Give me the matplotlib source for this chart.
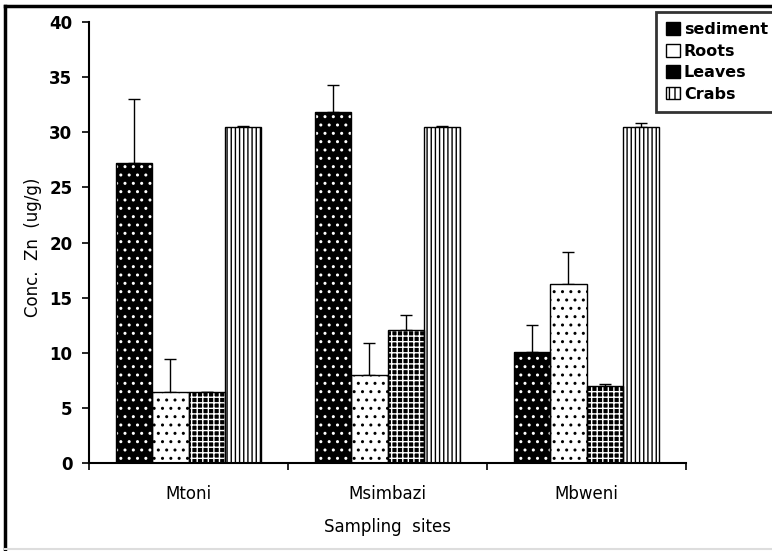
import numpy as np
import matplotlib
matplotlib.use("Agg")
import matplotlib.pyplot as plt
from matplotlib.patches import Rectangle
from matplotlib.lines import Line2D

sites = ["Mtoni", "Msimbazi", "Mbweni"]
series = ["sediment", "Roots", "Leaves", "Crabs"]
sediment = [27.2, 31.8, 10.1]
roots = [6.4, 8.0, 16.2]
leaves = [6.4, 12.1, 7.0]
crabs = [30.5, 30.5, 30.5]
sediment_err = [5.8, 2.5, 2.4]
roots_err = [3.0, 2.9, 2.9]
leaves_err = [0.05, 1.3, 0.15]
crabs_err = [0.05, 0.05, 0.3]

values = [sediment, roots, leaves, crabs]
errors = [sediment_err, roots_err, leaves_err, crabs_err]
# face colour, hatch, hatch colour
styles = [("black", "..", "white"),
          ("white", "..", "black"),
          ("black", "+++", "white"),
          ("white", "||||", "black")]
legend_hatch = ["", "", "+", "|||"]

plt.rcParams['font.family'] = ['DejaVu Sans']
plt.rcParams['hatch.linewidth'] = 1.0

fig = plt.figure(figsize=(7.72, 5.51), dpi=100)
ax = fig.add_axes([0.1153, 0.1597, 0.7733, 0.8003])

x = np.arange(len(sites))
w = 0.182
handles = []
for i, (vals, errs) in enumerate(zip(values, errors)):
    fc, hatch, hc = styles[i]
    pos = x + (i - 1.5) * w
    ax.bar(pos, vals, w, color=fc, edgecolor=hc, hatch=hatch, linewidth=0, zorder=2)
    ax.bar(pos, vals, w, fill=False, edgecolor="black", linewidth=1.0, zorder=3)
    ax.errorbar(pos, vals, yerr=[np.zeros(len(vals)), errs], fmt="none",
                ecolor="black", elinewidth=1.0, capsize=4, capthick=1.0, zorder=1)
    handles.append(Rectangle((0, 0), 1, 1, facecolor=fc, edgecolor="black",
                             hatch=legend_hatch[i], linewidth=1.0))

ax.set_xlim(-0.5, 2.5)
ax.set_ylim(0, 40)
ax.set_yticks(np.arange(0, 41, 5))
ax.set_xticks([-0.5, 0.5, 1.5, 2.5], minor=False)
ax.set_xticklabels([])
ax.set_xticks(x, minor=True)
ax.set_xticklabels(sites, minor=True)
ax.tick_params(axis="x", which="minor", length=0, pad=16, labelsize=12)
ax.tick_params(axis="x", which="major", length=5, width=1.2, direction="out")
ax.tick_params(axis="y", length=5, width=1.2, direction="out", labelsize=12, pad=7)
for lab in ax.get_yticklabels():
    lab.set_fontweight("bold")
for s in ["top", "right"]:
    ax.spines[s].set_visible(False)
for s in ["left", "bottom"]:
    ax.spines[s].set_linewidth(1.5)

ax.set_ylabel("Conc.  Zn  (ug/g)", fontsize=12)
ax.yaxis.set_label_coords(-0.078, 0.49)
ax.set_xlabel("Sampling  sites", fontsize=12)
ax.xaxis.set_label_coords(0.5, -0.125)

leg = fig.legend(handles, series, loc="upper left", bbox_to_anchor=(656 / 772, 1 - 12 / 551),
                 frameon=True, fancybox=False, edgecolor="black", handlelength=0.85,
                 handleheight=0.85, handletextpad=0.25, borderpad=0.65, labelspacing=0.4,
                 borderaxespad=0, prop={"weight": "bold", "size": 11.5})
leg.get_frame().set_linewidth(2.0)

# outer frame of the scanned figure
fig.add_artist(Line2D([0.007, 0.007], [0.0, 0.99], transform=fig.transFigure,
                      color="black", linewidth=2.5))
fig.add_artist(Line2D([0.007, 1.0], [0.99, 0.99], transform=fig.transFigure,
                      color="black", linewidth=2.5))
fig.add_artist(Line2D([0.007, 1.0], [0.004, 0.004], transform=fig.transFigure,
                      color="#dddddd", linewidth=1.5))

fig.savefig("out.png", dpi=100)
